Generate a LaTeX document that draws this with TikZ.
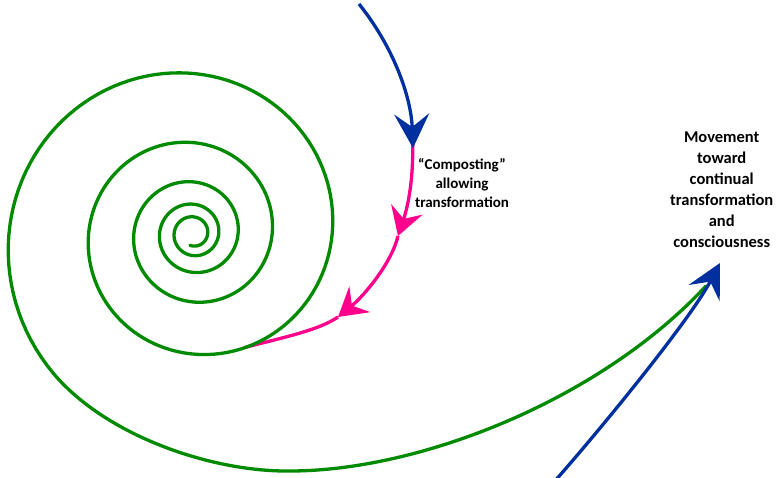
\documentclass[tikz,border=0pt]{standalone}
\usepackage{fontspec}
\setmainfont{Carlito}
\usetikzlibrary{arrows.meta}
\definecolor{spiralgreen}{RGB}{0,138,0}
\definecolor{flowblue}{RGB}{0,48,160}
\definecolor{flowpink}{RGB}{255,0,140}
\begin{document}
\begin{tikzpicture}[x=1pt,y=-1pt,
  thickline/.style={line width=3.3pt},
  bluetip/.style={-{Stealth[length=34pt,width=35pt,inset=13pt]}},
  pinktip/.style={-{Stealth[length=28pt,width=33pt,inset=10pt]}},
  txt/.style={align=center,text=black,inner sep=0pt}]
\useasboundingbox (0,0) rectangle (777,478);
% named points
\coordinate (blueTopStart) at (359,4);
\coordinate (blueTopTip) at (413,148);
\coordinate (pinkStart) at (412.5,140);
\coordinate (pinkTipA) at (398,236);
\coordinate (pinkTipB) at (338,317);
\coordinate (pinkEnd) at (245.3,347.4);
\coordinate (greenBottom) at (290,471);
\coordinate (greenEnd) at (706,286);
\coordinate (blueLowStart) at (554,482);
\coordinate (blueLowTip) at (720,263);
% pink flow
\draw[thickline,flowpink,pinktip] (pinkStart) .. controls (414,185) and (406,212) .. (pinkTipA);
\draw[thickline,flowpink,pinktip] (pinkTipA) .. controls (392,262) and (365,295) .. (pinkTipB);
\draw[thickline,flowpink] (pinkTipB) .. controls (318,331) and (276,339) .. (pinkEnd);
% spiral
\draw[thickline,spiralgreen,line join=round,line cap=round]
  plot[domain=-106:1665,samples=600]
  ({193.3+14.45*exp(0.0015708*\x)*cos(\x)},{233.5-14.45*exp(0.0015708*\x)*sin(\x)})
  .. controls (105,434.9) and (210,472) .. (greenBottom)
  .. controls (420,471) and (600,400) .. (greenEnd);
% blue arrows
\draw[thickline,flowblue,bluetip] (blueTopStart) .. controls (392,45) and (411,95) .. (blueTopTip);
\draw[thickline,flowblue,bluetip] (blueLowStart) .. controls (600,430) and (690,320) .. (blueLowTip);
% texts
\node[txt,font=\bfseries\fontsize{15}{19}\selectfont] (compost) at (462,183)
  {“Composting”\\allowing\\transformation};
\node[txt,font=\bfseries\fontsize{16.5}{21}\selectfont] (movement) at (721.7,190)
  {Movement\\toward\\continual\\transformation\\and\\consciousness};
\end{tikzpicture}
\end{document}
